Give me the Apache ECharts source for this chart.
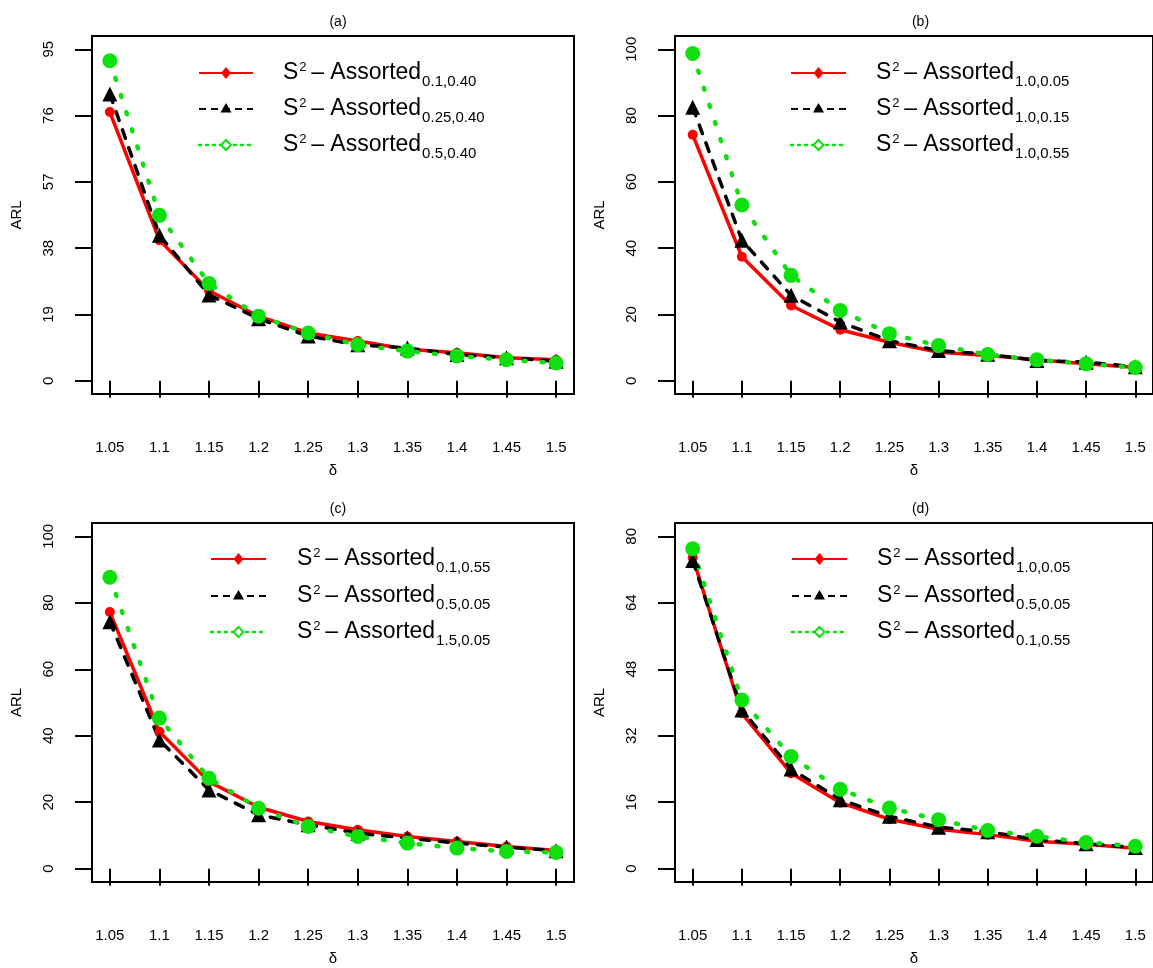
<!DOCTYPE html>
<html>
<head>
<meta charset="utf-8">
<script src="https://cdn.jsdelivr.net/npm/echarts@6/dist/echarts.min.js"></script>
<style>
html, body { margin: 0; padding: 0; background: #fff; }
#chart { width: 1153px; height: 968px; }
</style>
</head>
<body>
<div id="chart"></div>
<script>
// Shift sizes on the horizontal axis
const delta = [1.05, 1.1, 1.15, 1.2, 1.25, 1.3, 1.35, 1.4, 1.45, 1.5];

// Panel (a)
const aTitle = '(a)';
const aSubs = ['0.1,0.40', '0.25,0.40', '0.5,0.40'];
const aRed   = [77.0, 40.3, 25.8, 18.5, 13.7, 11.4, 9.0, 8.0, 6.6, 6.0];
const aBlack = [82.2, 41.7, 24.6, 17.8, 12.8, 10.3, 9.4, 7.5, 6.6, 5.6];
const aGreen = [91.7, 47.4, 27.9, 18.5, 13.7, 10.3, 8.5, 7.1, 6.0, 5.1];
const aTicks = [0, 19, 38, 57, 76, 95];

// Panel (b)
const bTitle = '(b)';
const bSubs = ['1.0,0.05', '1.0,0.15', '1.0,0.55'];
const bRed   = [74.2, 37.4, 22.7, 15.4, 11.6, 8.6, 7.6, 6.3, 5.1, 4.0];
const bBlack = [82.5, 42.4, 25.8, 17.7, 12.1, 9.1, 8.0, 6.1, 5.6, 4.2];
const bGreen = [98.7, 53.0, 31.8, 21.2, 14.2, 10.6, 7.9, 6.3, 5.1, 4.0];
const bTicks = [0, 20, 40, 60, 80, 100];

// Panel (c)
const cTitle = '(c)';
const cSubs = ['0.1,0.55', '0.5,0.05', '1.5,0.05'];
const cRed   = [77.2, 41.2, 26.2, 18.5, 14.2, 11.7, 9.7, 8.2, 6.7, 5.5];
const cBlack = [74.3, 38.7, 23.7, 16.2, 13.2, 10.7, 9.2, 7.7, 6.5, 5.4];
const cGreen = [87.7, 45.3, 27.2, 18.2, 12.7, 9.7, 7.7, 6.2, 5.2, 4.9];
const cTicks = [0, 20, 40, 60, 80, 100];

// Panel (d)
const dTitle = '(d)';
const dSubs = ['1.0,0.05', '0.5,0.05', '0.1,0.55'];
const dRed   = [74.9, 37.4, 23.0, 15.9, 11.9, 9.5, 8.2, 6.6, 5.9, 4.9];
const dBlack = [74.2, 38.2, 24.0, 16.6, 12.6, 10.0, 8.9, 7.0, 6.0, 5.1];
const dGreen = [77.0, 40.6, 27.0, 19.1, 14.6, 11.8, 9.2, 7.8, 6.3, 5.4];
const dTicks = [0, 16, 32, 48, 64, 80];

const RED = '#ff0000';
const BLACK = '#000000';
const GREEN = '#0ee00e';
const FONT = 'Liberation Sans, Arial, sans-serif';

// Layout of the four plot boxes and their legends
const panels = [
  { title: aTitle, subs: aSubs, vals: [aRed, aBlack, aGreen], ticks: aTicks,
    box: { left: 92, top: 36, width: 482, height: 358 },
    leg: { lx0: 199, lx1: 253, tx: 283, rows: [73, 109, 145] } },
  { title: bTitle, subs: bSubs, vals: [bRed, bBlack, bGreen], ticks: bTicks,
    box: { left: 675, top: 36, width: 481, height: 358 },
    leg: { lx0: 791, lx1: 846, tx: 876, rows: [73, 109, 145] } },
  { title: cTitle, subs: cSubs, vals: [cRed, cBlack, cGreen], ticks: cTicks,
    box: { left: 92, top: 523, width: 482, height: 359 },
    leg: { lx0: 211, lx1: 266, tx: 297, rows: [559, 596, 632] } },
  { title: dTitle, subs: dSubs, vals: [dRed, dBlack, dGreen], ticks: dTicks,
    box: { left: 675, top: 523, width: 481, height: 359 },
    leg: { lx0: 792, lx1: 847, tx: 877, rows: [559, 596, 632] } }
];

// 4% padding around the data range, as in the plot boxes
function padRange(lo, hi) {
  const p = (hi - lo) * 0.04;
  return [lo - p, hi + p];
}
const xr = padRange(delta[0], delta[delta.length - 1]);

const lineLooks = [
  { symbol: 'circle', size: 10, line: { color: RED, width: 3.5, type: 'solid' } },
  { symbol: 'triangle', size: 15, line: { color: BLACK, width: 3.5, type: [9, 10], cap: 'round' } },
  { symbol: 'circle', size: 15, line: { color: GREEN, width: 4.5, type: [2, 16], cap: 'round' } }
];
const colors = [RED, BLACK, GREEN];

const grids = [], xAxes = [], yAxes = [], series = [], titles = [], graphics = [];

const RICH = {
  m:   { fontSize: 23, fontFamily: FONT, fill: '#000', lineHeight: 32 },
  sup: { fontSize: 13, fontFamily: FONT, fill: '#000', lineHeight: 13, verticalAlign: 'top', padding: [4, 0, 0, 1] },
  sub: { fontSize: 15, fontFamily: FONT, fill: '#000', lineHeight: 15, verticalAlign: 'bottom', padding: [0, 0, 0, 1] }
};

panels.forEach((p, k) => {
  grids.push({ show: true, borderColor: '#000', borderWidth: 2, backgroundColor: 'transparent',
    left: p.box.left, top: p.box.top, width: p.box.width, height: p.box.height });

  xAxes.push({
    type: 'value', gridIndex: k, min: xr[0], max: xr[1],
    axisLine: { show: false },
    splitLine: { show: false },
    axisTick: { show: true, customValues: delta, length: 17, lineStyle: { color: '#000', width: 2 } },
    axisLabel: { customValues: delta, margin: 46, fontSize: 15, color: '#000', fontFamily: FONT,
      formatter: v => String(+v.toFixed(2)) },
    name: 'δ', nameLocation: 'middle', nameGap: 69,
    nameTextStyle: { fontSize: 15, color: '#000', fontFamily: FONT }
  });

  const yr = padRange(p.ticks[0], p.ticks[p.ticks.length - 1]);
  yAxes.push({
    type: 'value', gridIndex: k, min: yr[0], max: yr[1],
    axisLine: { show: false },
    splitLine: { show: false },
    axisTick: { show: true, customValues: p.ticks, length: 17, lineStyle: { color: '#000', width: 2 } },
    axisLabel: { customValues: p.ticks, rotate: 90, margin: 36, fontSize: 15, color: '#000', fontFamily: FONT },
    name: 'ARL', nameLocation: 'middle', nameGap: 68, nameRotate: 90,
    nameTextStyle: { fontSize: 15, color: '#000', fontFamily: FONT }
  });

  p.vals.forEach((vals, i) => {
    const look = lineLooks[i];
    series.push({
      type: 'line', name: 'S2 - Assorted ' + p.subs[i],
      xAxisIndex: k, yAxisIndex: k,
      data: delta.map((d, j) => [d, vals[j]]),
      symbol: look.symbol, symbolSize: look.size,
      itemStyle: { color: colors[i] },
      lineStyle: look.line,
      animation: false
    });
  });

  titles.push({ text: p.title, left: p.box.left + p.box.width / 2, top: p.box.top - 26,
    textAlign: 'center',
    textStyle: { fontSize: 14, fontWeight: 'normal', color: '#000', fontFamily: FONT } });

  // Legend: sample line, marker and label for each curve
  const L = p.leg;
  const mx = (L.lx0 + L.lx1) / 2;
  const legLines = [
    { stroke: RED, lineWidth: 2 },
    { stroke: BLACK, lineWidth: 2, lineDash: [7, 5] },
    { stroke: GREEN, lineWidth: 2.5, lineDash: [2, 5], lineCap: 'round' }
  ];
  p.subs.forEach((sub, i) => {
    const y = L.rows[i];
    graphics.push({ type: 'line', silent: true, z: 100,
      shape: { x1: L.lx0, y1: y, x2: L.lx1, y2: y }, style: legLines[i] });
    let pts, st;
    if (i === 0) {
      pts = [[mx, y - 6], [mx + 5, y], [mx, y + 6], [mx - 5, y]]; st = { fill: RED };
    } else if (i === 1) {
      pts = [[mx, y - 6], [mx + 5.5, y + 3.5], [mx - 5.5, y + 3.5]]; st = { fill: BLACK };
    } else {
      pts = [[mx, y - 5], [mx + 5, y], [mx, y + 5], [mx - 5, y]]; st = { fill: '#fff', stroke: GREEN, lineWidth: 2 };
    }
    graphics.push({ type: 'polygon', silent: true, z: 101, shape: { points: pts }, style: st });
    graphics.push({ type: 'text', silent: true, z: 101, x: L.tx, y: y,
      style: { text: '{m|S}{sup|2}{m|\u2009\u2013 Assorted}{sub|' + sub + '}', rich: RICH,
        align: 'left', verticalAlign: 'middle', textAlign: 'left', textVerticalAlign: 'middle', fill: '#000' } });
  });
});

const chart = echarts.init(document.getElementById('chart'), null, { renderer: 'canvas' });
chart.setOption({
  animation: false,
  backgroundColor: '#ffffff',
  textStyle: { fontFamily: FONT },
  title: titles,
  grid: grids,
  xAxis: xAxes,
  yAxis: yAxes,
  series: series,
  graphic: { elements: graphics }
});
</script>
</body>
</html>
